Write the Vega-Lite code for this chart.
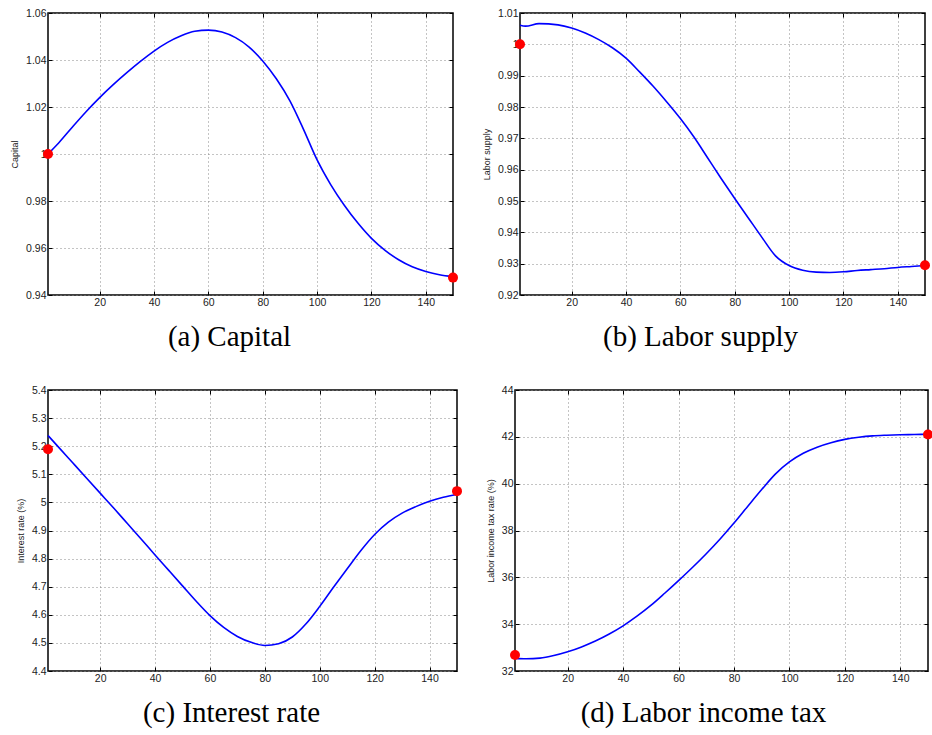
{
  "$schema": "https://vega.github.io/schema/vega-lite/v6.json",
  "padding": {"left": 9, "top": 7, "right": 0, "bottom": 0},
  "background": "white",
  "datasets": {
    "curve": [
      {"p":"a","t":1,"v":1.0000},{"p":"a","t":5,"v":1.0048},{"p":"a","t":10,"v":1.0115},{"p":"a","t":15,"v":1.0180},{"p":"a","t":20,"v":1.0240},{"p":"a","t":25,"v":1.0295},{"p":"a","t":30,"v":1.0346},{"p":"a","t":35,"v":1.0394},{"p":"a","t":40,"v":1.0438},{"p":"a","t":45,"v":1.0475},{"p":"a","t":50,"v":1.0503},{"p":"a","t":55,"v":1.0522},{"p":"a","t":60,"v":1.0527},{"p":"a","t":65,"v":1.0519},{"p":"a","t":70,"v":1.0495},{"p":"a","t":75,"v":1.0455},{"p":"a","t":80,"v":1.0396},{"p":"a","t":85,"v":1.0320},{"p":"a","t":90,"v":1.0226},{"p":"a","t":95,"v":1.0105},{"p":"a","t":100,"v":0.9975},{"p":"a","t":105,"v":0.9870},{"p":"a","t":110,"v":0.9782},{"p":"a","t":115,"v":0.9706},{"p":"a","t":120,"v":0.9641},{"p":"a","t":125,"v":0.9590},{"p":"a","t":130,"v":0.9550},{"p":"a","t":135,"v":0.9520},{"p":"a","t":140,"v":0.9500},{"p":"a","t":145,"v":0.9486},{"p":"a","t":150,"v":0.9478},
      {"p":"b","t":1,"v":1.0061},{"p":"b","t":3,"v":1.0058},{"p":"b","t":8,"v":1.0066},{"p":"b","t":15,"v":1.0062},{"p":"b","t":20,"v":1.0052},{"p":"b","t":25,"v":1.0036},{"p":"b","t":30,"v":1.0015},{"p":"b","t":35,"v":0.9989},{"p":"b","t":40,"v":0.9956},{"p":"b","t":45,"v":0.9912},{"p":"b","t":50,"v":0.9866},{"p":"b","t":55,"v":0.9816},{"p":"b","t":60,"v":0.9763},{"p":"b","t":65,"v":0.9704},{"p":"b","t":70,"v":0.9638},{"p":"b","t":75,"v":0.9572},{"p":"b","t":80,"v":0.9508},{"p":"b","t":85,"v":0.9446},{"p":"b","t":90,"v":0.9384},{"p":"b","t":95,"v":0.9325},{"p":"b","t":100,"v":0.9294},{"p":"b","t":105,"v":0.9279},{"p":"b","t":110,"v":0.9273},{"p":"b","t":115,"v":0.9272},{"p":"b","t":120,"v":0.9274},{"p":"b","t":125,"v":0.9278},{"p":"b","t":130,"v":0.9281},{"p":"b","t":135,"v":0.9284},{"p":"b","t":140,"v":0.9288},{"p":"b","t":145,"v":0.9291},{"p":"b","t":150,"v":0.9294},
      {"p":"c","t":1,"v":5.238},{"p":"c","t":5,"v":5.195},{"p":"c","t":10,"v":5.141},{"p":"c","t":15,"v":5.087},{"p":"c","t":20,"v":5.033},{"p":"c","t":25,"v":4.979},{"p":"c","t":30,"v":4.924},{"p":"c","t":35,"v":4.869},{"p":"c","t":40,"v":4.813},{"p":"c","t":45,"v":4.758},{"p":"c","t":50,"v":4.703},{"p":"c","t":55,"v":4.648},{"p":"c","t":60,"v":4.597},{"p":"c","t":65,"v":4.555},{"p":"c","t":70,"v":4.523},{"p":"c","t":75,"v":4.502},{"p":"c","t":80,"v":4.491},{"p":"c","t":85,"v":4.497},{"p":"c","t":90,"v":4.521},{"p":"c","t":95,"v":4.568},{"p":"c","t":100,"v":4.630},{"p":"c","t":105,"v":4.698},{"p":"c","t":110,"v":4.764},{"p":"c","t":115,"v":4.829},{"p":"c","t":120,"v":4.886},{"p":"c","t":125,"v":4.930},{"p":"c","t":130,"v":4.962},{"p":"c","t":135,"v":4.985},{"p":"c","t":140,"v":5.004},{"p":"c","t":145,"v":5.018},{"p":"c","t":150,"v":5.028},
      {"p":"d","t":1,"v":32.54},{"p":"d","t":5,"v":32.52},{"p":"d","t":10,"v":32.55},{"p":"d","t":15,"v":32.66},{"p":"d","t":20,"v":32.82},{"p":"d","t":25,"v":33.03},{"p":"d","t":30,"v":33.28},{"p":"d","t":35,"v":33.58},{"p":"d","t":40,"v":33.93},{"p":"d","t":45,"v":34.34},{"p":"d","t":50,"v":34.80},{"p":"d","t":55,"v":35.32},{"p":"d","t":60,"v":35.86},{"p":"d","t":65,"v":36.42},{"p":"d","t":70,"v":37.01},{"p":"d","t":75,"v":37.64},{"p":"d","t":80,"v":38.32},{"p":"d","t":85,"v":39.04},{"p":"d","t":90,"v":39.75},{"p":"d","t":95,"v":40.42},{"p":"d","t":100,"v":40.93},{"p":"d","t":105,"v":41.30},{"p":"d","t":110,"v":41.56},{"p":"d","t":115,"v":41.75},{"p":"d","t":120,"v":41.89},{"p":"d","t":125,"v":41.98},{"p":"d","t":130,"v":42.04},{"p":"d","t":135,"v":42.07},{"p":"d","t":140,"v":42.09},{"p":"d","t":145,"v":42.10},{"p":"d","t":150,"v":42.11}
    ],
    "ends": [
      {"p":"a","t":1,"v":1.0},{"p":"a","t":150,"v":0.9474},
      {"p":"b","t":1,"v":1.0},{"p":"b","t":150,"v":0.9295},
      {"p":"c","t":1,"v":5.189},{"p":"c","t":150,"v":5.04},
      {"p":"d","t":1,"v":32.68},{"p":"d","t":150,"v":42.1}
    ]
  },
  "vconcat": [
    {
      "hconcat": [
        {
          "width": 405, "height": 282,
          "title": {"text": "(a) Capital", "orient": "bottom", "anchor": "middle", "dx": -21, "offset": 15},
          "layer": [
            {"data": {"name": "curve"}, "transform": [{"filter": "datum.p == 'a'"}],
             "mark": {"type": "line", "color": "#0000ff", "strokeWidth": 1.6, "interpolate": "monotone"},
             "encoding": {
               "x": {"field": "t", "type": "quantitative", "scale": {"domain": [1, 150], "nice": false, "zero": false}, "axis": {"orient": "bottom", "values": [20,40,60,80,100,120,140], "title": null, "grid": true}},
               "y": {"field": "v", "type": "quantitative", "scale": {"domain": [0.94, 1.06], "nice": false, "zero": false}, "axis": {"orient": "left", "values": [0.94,0.96,0.98,1,1.02,1.04,1.06], "format": "~g", "title": "Capital", "grid": true}}
             }},
            {"data": {"name": "ends"}, "transform": [{"filter": "datum.p == 'a'"}],
             "mark": {"type": "circle", "color": "#ff0000", "size": 100, "opacity": 1},
             "encoding": {
               "x": {"field": "t", "type": "quantitative", "scale": {"domain": [1, 150], "nice": false, "zero": false}, "axis": {"orient": "top", "values": [20,40,60,80,100,120,140], "title": null, "grid": false, "labels": false}},
               "y": {"field": "v", "type": "quantitative", "scale": {"domain": [0.94, 1.06], "nice": false, "zero": false}, "axis": {"orient": "right", "values": [0.94,0.96,0.98,1,1.02,1.04,1.06], "title": null, "grid": false, "labels": false}}
             }}
          ],
          "resolve": {"axis": {"x": "independent", "y": "independent"}}
        },
        {
          "width": 405, "height": 282,
          "title": {"text": "(b) Labor supply", "orient": "bottom", "anchor": "middle", "dx": -22, "offset": 15},
          "layer": [
            {"data": {"name": "curve"}, "transform": [{"filter": "datum.p == 'b'"}],
             "mark": {"type": "line", "color": "#0000ff", "strokeWidth": 1.6, "interpolate": "monotone"},
             "encoding": {
               "x": {"field": "t", "type": "quantitative", "scale": {"domain": [1, 150], "nice": false, "zero": false}, "axis": {"orient": "bottom", "values": [20,40,60,80,100,120,140], "title": null, "grid": true}},
               "y": {"field": "v", "type": "quantitative", "scale": {"domain": [0.92, 1.01], "nice": false, "zero": false}, "axis": {"orient": "left", "values": [0.92,0.93,0.94,0.95,0.96,0.97,0.98,0.99,1,1.01], "format": "~g", "title": "Labor supply", "grid": true}}
             }},
            {"data": {"name": "ends"}, "transform": [{"filter": "datum.p == 'b'"}],
             "mark": {"type": "circle", "color": "#ff0000", "size": 100, "opacity": 1},
             "encoding": {
               "x": {"field": "t", "type": "quantitative", "scale": {"domain": [1, 150], "nice": false, "zero": false}, "axis": {"orient": "top", "values": [20,40,60,80,100,120,140], "title": null, "grid": false, "labels": false}},
               "y": {"field": "v", "type": "quantitative", "scale": {"domain": [0.92, 1.01], "nice": false, "zero": false}, "axis": {"orient": "right", "values": [0.92,0.93,0.94,0.95,0.96,0.97,0.98,0.99,1,1.01], "title": null, "grid": false, "labels": false}}
             }}
          ],
          "resolve": {"axis": {"x": "independent", "y": "independent"}}
        }
      ],
      "spacing": 22
    },
    {
      "hconcat": [
        {
          "width": 409, "height": 281,
          "title": {"text": "(c) Interest rate", "orient": "bottom", "anchor": "middle", "dx": -21, "offset": 15},
          "layer": [
            {"data": {"name": "curve"}, "transform": [{"filter": "datum.p == 'c'"}],
             "mark": {"type": "line", "color": "#0000ff", "strokeWidth": 1.6, "interpolate": "monotone"},
             "encoding": {
               "x": {"field": "t", "type": "quantitative", "scale": {"domain": [1, 150], "nice": false, "zero": false}, "axis": {"orient": "bottom", "values": [20,40,60,80,100,120,140], "title": null, "grid": true}},
               "y": {"field": "v", "type": "quantitative", "scale": {"domain": [4.4, 5.4], "nice": false, "zero": false}, "axis": {"orient": "left", "values": [4.4,4.5,4.6,4.7,4.8,4.9,5,5.1,5.2,5.3,5.4], "format": "~g", "title": "Interest rate (%)", "grid": true}}
             }},
            {"data": {"name": "ends"}, "transform": [{"filter": "datum.p == 'c'"}],
             "mark": {"type": "circle", "color": "#ff0000", "size": 100, "opacity": 1},
             "encoding": {
               "x": {"field": "t", "type": "quantitative", "scale": {"domain": [1, 150], "nice": false, "zero": false}, "axis": {"orient": "top", "values": [20,40,60,80,100,120,140], "title": null, "grid": false, "labels": false}},
               "y": {"field": "v", "type": "quantitative", "scale": {"domain": [4.4, 5.4], "nice": false, "zero": false}, "axis": {"orient": "right", "values": [4.4,4.5,4.6,4.7,4.8,4.9,5,5.1,5.2,5.3,5.4], "title": null, "grid": false, "labels": false}}
             }}
          ],
          "resolve": {"axis": {"x": "independent", "y": "independent"}}
        },
        {
          "width": 413, "height": 281,
          "title": {"text": "(d) Labor income tax", "orient": "bottom", "anchor": "middle", "dx": -18, "offset": 15},
          "layer": [
            {"data": {"name": "curve"}, "transform": [{"filter": "datum.p == 'd'"}],
             "mark": {"type": "line", "color": "#0000ff", "strokeWidth": 1.6, "interpolate": "monotone"},
             "encoding": {
               "x": {"field": "t", "type": "quantitative", "scale": {"domain": [1, 150], "nice": false, "zero": false}, "axis": {"orient": "bottom", "values": [20,40,60,80,100,120,140], "title": null, "grid": true}},
               "y": {"field": "v", "type": "quantitative", "scale": {"domain": [32, 44], "nice": false, "zero": false}, "axis": {"orient": "left", "values": [32,34,36,38,40,42,44], "format": "~g", "title": "Labor income tax rate (%)", "grid": true}}
             }},
            {"data": {"name": "ends"}, "transform": [{"filter": "datum.p == 'd'"}],
             "mark": {"type": "circle", "color": "#ff0000", "size": 100, "opacity": 1},
             "encoding": {
               "x": {"field": "t", "type": "quantitative", "scale": {"domain": [1, 150], "nice": false, "zero": false}, "axis": {"orient": "top", "values": [20,40,60,80,100,120,140], "title": null, "grid": false, "labels": false}},
               "y": {"field": "v", "type": "quantitative", "scale": {"domain": [32, 44], "nice": false, "zero": false}, "axis": {"orient": "right", "values": [32,34,36,38,40,42,44], "title": null, "grid": false, "labels": false}}
             }}
          ],
          "resolve": {"axis": {"x": "independent", "y": "independent"}}
        }
      ],
      "spacing": 22
    }
  ],
  "spacing": 31,
  "config": {
    "view": {"stroke": "#000", "strokeWidth": 1.5},
    "axis": {"domain": false, "labelFont": "Liberation Sans", "labelFontSize": 10.5, "labelColor": "#222", "titleFont": "Liberation Sans", "titleFontSize": 9, "titleFontWeight": "normal", "titleColor": "#222", "titlePadding": 6, "tickColor": "#000", "tickSize": -4, "tickWidth": 1, "gridColor": "#888", "gridDash": [1, 3], "gridOpacity": 1, "labelPadding": 6},
    "title": {"font": "Liberation Serif", "fontSize": 29, "fontWeight": "normal", "color": "#000"}
  }
}
